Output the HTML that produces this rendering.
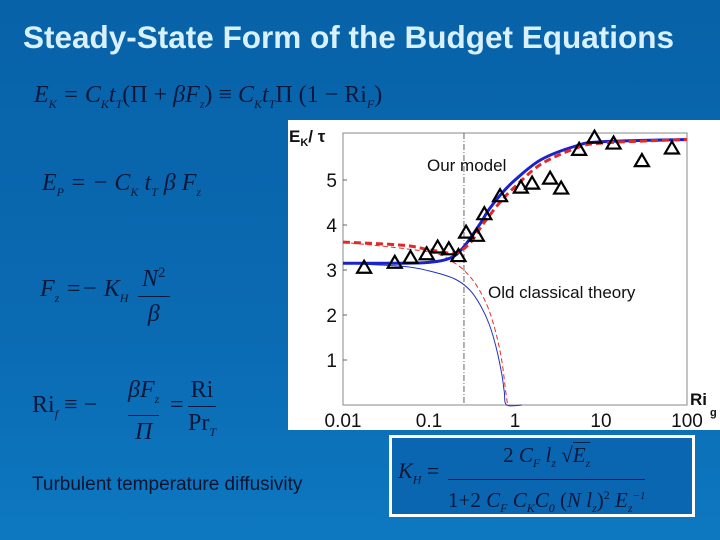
<!DOCTYPE html>
<html><head><meta charset="utf-8"><style>
body{margin:0;width:720px;height:540px;overflow:hidden;background:linear-gradient(180deg,#0862a8 0%,#0a6ab2 60%,#0d78c0 100%);font-family:"Liberation Sans",sans-serif}
.eq{position:absolute;font-family:"Liberation Serif",serif;font-style:italic;color:#08183a;font-size:24px;white-space:nowrap}
.eq sub{font-size:12px}
.up{font-style:normal}
</style></head><body>
<div style="position:absolute;left:23px;top:19px;font-size:31.5px;font-weight:bold;color:#d8f0ff;white-space:nowrap">Steady-State Form of the Budget Equations</div>
<div class="eq" style="left:34px;top:82px">E<sub>K</sub> = C<sub>K</sub>t<sub>T</sub><span class="up">(Π +</span> βF<sub>z</sub><span class="up">) ≡</span> C<sub>K</sub>t<sub>T</sub><span class="up">Π (1 − Ri</span><sub>F</sub><span class="up">)</span></div>
<div class="eq" style="left:42px;top:170px">E<sub>P</sub> = − C<sub>K</sub> t<sub>T</sub> β F<sub>z</sub></div>
<div class="eq" style="left:40px;top:276px">F<sub>z</sub> =− K<sub>H</sub></div>
<div class="eq" style="left:138px;top:256px;text-align:center;line-height:34px"><div style="border-bottom:1.5px solid #08183a;padding:0 4px">N<sup style="font-style:normal;font-size:15px">2</sup></div><div>β</div></div>
<div class="eq" style="left:32px;top:392px"><span class="up">Ri</span><sub>f</sub> <span class="up">≡ −</span></div>
<div class="eq" style="left:128px;top:374px;text-align:center;line-height:32px"><div style="border-bottom:1.5px solid #08183a">βF<sub>z</sub></div><div>Π</div></div>
<div class="eq" style="left:170px;top:392px"><span class="up">=</span></div>
<div class="eq" style="left:188px;top:374px;text-align:center;line-height:32px;font-style:normal"><div style="border-bottom:1.5px solid #08183a">Ri</div><div>Pr<sub style="font-style:italic">T</sub></div></div>
<div style="position:absolute;left:32px;top:474px;font-size:19px;color:#0a1430;white-space:nowrap">Turbulent temperature diffusivity</div>
<div style="position:absolute;left:389px;top:435px;width:300px;height:76px;border:3px solid #fff;background:#0a66b0"></div>
<div class="eq" style="left:398px;top:458px;font-size:22px">K<sub>H</sub> <span class="up">=</span></div>
<div class="eq" style="left:448px;top:440px;text-align:center;line-height:31px;font-size:21px"><div style="border-bottom:1.5px solid #08183a"><span class="up">2</span> C<sub>F</sub> l<sub>z</sub> <span class="up">√</span><span style="border-top:1px solid #08183a">E<sub>z</sub></span></div><div><span class="up">1+2</span> C<sub>F</sub> C<sub>K</sub>C<sub>0</sub> <span class="up">(</span>N l<sub>z</sub><span class="up">)<sup style="font-size:12px">2</sup></span> E<sub>z</sub><sup style="font-size:11px">−1</sup></div></div>
<svg id="chart" style="position:absolute;left:0;top:0" width="720" height="540"></svg>
<script>
const obsX=[0.0176,0.04,0.061,0.094,0.126,0.17,0.22,0.27,0.36,0.44,0.67,1.17,1.58,2.56,3.44,5.57,8.4,14,29.9,66.8];
const obsY=[3.05,3.16,3.27,3.35,3.5,3.46,3.31,3.83,3.76,4.24,4.64,4.83,4.92,5.03,4.81,5.67,5.94,5.81,5.42,5.7];
const modelX=[0.01,0.05,0.1,0.15,0.2,0.25,0.3,0.4,0.5,0.7,1,2,5,10,100];
const modelBlue=[3.15,3.15,3.17,3.22,3.32,3.5,3.7,4.05,4.35,4.7,5.0,5.45,5.75,5.85,5.9];
const modelRedX=[0.01,0.05,0.1,0.2,0.3,0.4,0.5,0.7,1,2,5,10,100];
const modelRed=[3.62,3.55,3.45,3.38,3.6,3.95,4.2,4.55,4.85,5.35,5.7,5.82,5.9];
const oldBlueX=[0.01,0.05,0.1,0.2,0.3,0.4,0.5,0.6,0.7,0.75,0.8,1.2];
const oldBlue=[3.15,3.08,2.98,2.8,2.55,2.2,1.8,1.3,0.7,0.3,0,0];
const oldRedX=[0.01,0.1,0.2,0.3,0.4,0.5,0.6,0.7,0.78,0.82];
const oldRed=[3.62,3.4,3.15,2.85,2.5,2.1,1.6,1.0,0.3,0];
const xTicks=[0.01,0.1,1,10,100];
const xTickLabels=["0.01","0.1","1","10","100"];
const yTicks=[1,2,3,4,5];
const critRi=0.255;
const svg=document.getElementById('chart');const NS='http://www.w3.org/2000/svg';
const L=343,R=687,T=133,B=405;
const sx=v=>L+(Math.log10(v)+2)/4*(R-L);
const sy=v=>B-v*45;
function mk(t,a,name){const e=document.createElementNS(NS,t);for(const k in a)e.setAttribute(k,a[k]);


svg.appendChild(e);return e;}
mk('rect',{x:288,y:120,width:432,height:310,fill:'#fff'},'chart-background');
mk('rect',{x:L,y:T,width:R-L,height:B-T,fill:'none',stroke:'#888','stroke-width':1},'plot-frame');
xTicks.forEach((v,i)=>{const t=mk('text',{x:sx(v),y:427,'font-size':19,'text-anchor':'middle',fill:'#111','font-family':'Liberation Sans'},'x-tick-label');t.textContent=xTickLabels[i];});
yTicks.forEach(v=>{const t=mk('text',{x:337,y:sy(v)+7,'font-size':19,'text-anchor':'end',fill:'#111','font-family':'Liberation Sans'},'y-tick-label');t.textContent=v;
mk('line',{x1:L,x2:L+4,y1:sy(v),y2:sy(v),stroke:'#666'},'y-tick');});
let t=mk('text',{x:289,y:142,'font-size':17,'font-weight':'bold',fill:'#111','font-family':'Liberation Sans'},'y-axis-title');t.innerHTML='E<tspan font-size="11" dy="4">K</tspan><tspan dy="-4">/ τ</tspan>';
t=mk('text',{x:690,y:405,'font-size':17,'font-weight':'bold',fill:'#111','font-family':'Liberation Sans'},'x-axis-title');t.innerHTML='Ri<tspan font-size="11" dx="3" dy="11">g</tspan>';
mk('line',{x1:sx(critRi),x2:sx(critRi),y1:T,y2:B,stroke:'#666','stroke-dasharray':'6,2,1,2'},'critical-ri-line');
function line(xs,ys,st,w,dash,name){
const p=xs.map((x,i)=>[sx(x),sy(ys[i])]);let d='M'+p[0][0]+','+p[0][1];
for(let i=0;i<p.length-1;i++){const p0=p[Math.max(i-1,0)],p1=p[i],p2=p[i+1],p3=p[Math.min(i+2,p.length-1)];
d+=` C${p1[0]+(p2[0]-p0[0])/6},${p1[1]+(p2[1]-p0[1])/6} ${p2[0]-(p3[0]-p1[0])/6},${p2[1]-(p3[1]-p1[1])/6} ${p2[0]},${p2[1]}`;}
mk('path',{d:d,fill:'none',stroke:st,'stroke-width':w,'stroke-dasharray':dash||'none'},name);}
line(oldBlueX,oldBlue,'#2233bb',1,null,'old-theory-blue');
line(oldRedX,oldRed,'#e03030',1,'5,3','old-theory-red');
line(modelX,modelBlue,'#1a22cc',3,null,'model-blue');
line(modelRedX,modelRed,'#e02a2a',3,'7,4','model-red');
obsX.forEach((x,i)=>{const cx=sx(x),cy=sy(obsY[i]);mk('polygon',{points:`${cx},${cy-7} ${cx-7},${cy+5} ${cx+7},${cy+5}`,fill:'none',stroke:'#000','stroke-width':2.2},'observation-point');});
t=mk('text',{x:427,y:171,'font-size':17,fill:'#111','font-family':'Liberation Sans'},'label-our-model');t.textContent='Our model';
t=mk('text',{x:488,y:298,'font-size':17,fill:'#111','font-family':'Liberation Sans'},'label-old-theory');t.textContent='Old classical theory';
</script>
</body></html>
